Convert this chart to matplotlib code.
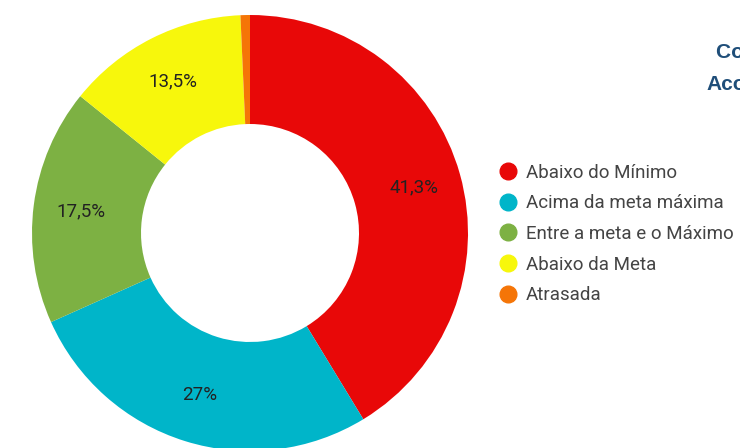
import numpy as np
import matplotlib.pyplot as plt
from matplotlib.lines import Line2D

categorias = ["Abaixo do Mínimo", "Acima da meta máxima", "Entre a meta e o Máximo",
              "Abaixo da Meta", "Atrasada"]
valores = [41.3, 27.0, 17.5, 13.5, 0.7]
rotulos = ["41,3%", "27%", "17,5%", "13,5%", ""]
cores = ["#e80808", "#00b5c9", "#7db143", "#f7f70c", "#f57507"]

plt.rcParams['font.family'] = ['Roboto', 'DejaVu Sans']

fig = plt.figure(figsize=(7.4, 4.48), dpi=100)
fig.patch.set_facecolor("white")

# rosca, posicionada em pixels
ax = fig.add_axes([32/740, (448-451)/448, 436/740, 436/448])
wedges, _ = ax.pie(valores, colors=cores, startangle=90, counterclock=False,
                   radius=1.0, wedgeprops=dict(width=0.5, linewidth=0))
tot = sum(valores)
ang = 90.0
for v, t in zip(valores, rotulos):
    meio = ang - v/tot*360/2
    ang -= v/tot*360
    if t:
        r = 0.78
        ax.text(r*np.cos(np.radians(meio)), r*np.sin(np.radians(meio)), t,
                ha="center", va="center", fontsize=13.5, color="#222222")
ax.set_xlim(-1, 1)
ax.set_ylim(-1, 1)
ax.set_aspect("equal")
ax.axis("off")

# legenda
alcas = [Line2D([0], [0], marker="o", linestyle="", markersize=12,
                markerfacecolor=c, markeredgecolor=c) for c in cores]
fig.legend(alcas, categorias, loc="upper left", bbox_to_anchor=(491/740, 1 - 156/448),
           frameon=False, fontsize=13.5, labelcolor="#444444", handletextpad=0.45,
           labelspacing=0.68, handlelength=1.0, borderaxespad=0)

# titulo (cortado pela borda direita)
fig.text(716/740, 1 - 52/448, "Controle de", ha="left", va="center", fontsize=15,
         fontweight="bold", color="#1f4e79", family=["Liberation Sans", "DejaVu Sans"])
fig.text(706/740, 1 - 84/448, "Acompanhamento", ha="left", va="center", fontsize=15,
         fontweight="bold", color="#1f4e79", family=["Liberation Sans", "DejaVu Sans"])

fig.savefig("out.png", dpi=100)
